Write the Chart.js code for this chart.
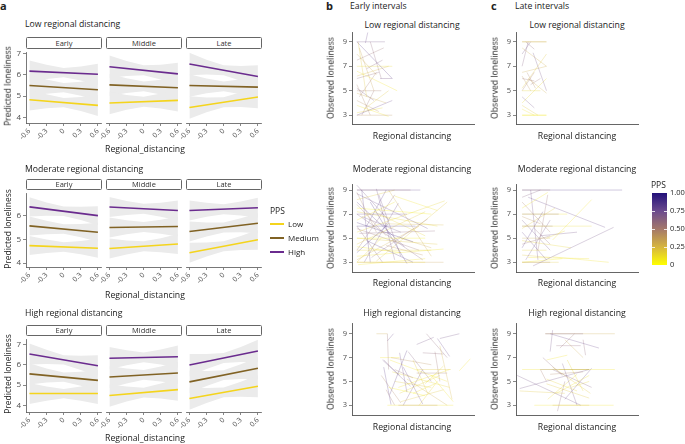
<!DOCTYPE html>
<html>
<head>
<meta charset="utf-8">
<script src="https://cdn.jsdelivr.net/npm/chart.js@4.4.1/dist/chart.umd.min.js"></script>
<style>
  body { margin: 0; background: #fff; }
  #fig { position: relative; width: 685px; height: 444px; overflow: hidden; font-family: "Open Sans", sans-serif; color: #222; }
  #fig canvas { position: absolute; }
  .t { position: absolute; white-space: nowrap; line-height: 1; }
  .strip { position: absolute; box-sizing: border-box; border: 1px solid #666; border-radius: 1.5px; font-size: 7.5px; text-align: center; color: #333; background: #fff; }
</style>
</head>
<body>
<div id="fig"></div>
<script>
// ---- data: panel a (predicted loneliness) ----
const xTicks = [-0.6, -0.3, 0, 0.3, 0.6]
const xTickLabels = ['-0.6', '-0.3', '0', '0.3', '0.6']
const ppsLevels = ['Low', 'Medium', 'High']
const ppsColors = ['#f4d41c', '#806224', '#6a2b8e']
const intervals = ['Early', 'Middle', 'Late']
const distancing = ['Low regional distancing', 'Moderate regional distancing', 'High regional distancing']

// predicted value at x=-0.6 and x=0.6 ; per interval, per PPS (Low, Medium, High)
const predLow = [
  [[4.83, 4.57], [5.50, 5.30], [6.18, 6.03]],
  [[4.63, 4.75], [5.44, 5.31], [6.25, 5.93]],
  [[4.43, 4.90], [5.41, 5.34], [6.37, 5.81]]
]
const predModerate = [
  [[4.74, 4.63], [5.57, 5.30], [6.37, 6.00]],
  [[4.58, 4.76], [5.42, 5.46], [6.24, 6.10]],
  [[4.41, 4.93], [5.26, 5.59], [6.10, 6.21]]
]
const predHigh = [
  [[4.58, 4.58], [5.55, 5.23], [6.53, 5.95]],
  [[4.44, 4.72], [5.31, 5.50], [6.19, 6.26]],
  [[4.30, 4.88], [5.08, 5.72], [5.87, 6.53]]
]
// half width of the confidence ribbon at each x tick
const ciLow = [0.50, 0.33, 0.22, 0.33, 0.50]
const ciModerate = [0.40, 0.28, 0.20, 0.28, 0.40]
const ciHigh = [0.52, 0.35, 0.23, 0.35, 0.52]
const yTicksLow = [4, 5, 6, 7]
const yTicksModerate = [4, 5, 6]
const yTicksHigh = [4, 5, 6, 7]

// ---- data: panels b, c (observed loneliness, one segment per person) ----
// [x1, y1, x2, y2, pps]
const earlyLow = [
  [0.4,9,2.7,9,0.7],[0.4,9,3.3,6,0.8],[2.3,6,3.3,6,0.7],[1.1,8.9,1.3,9.8,0.75],[0.4,7,3.3,7,0.15],
  [0.4,6.6,3.7,5,0.1],[0.4,5,2.4,5,0.5],[0.4,3,3.3,4.2,0.75],[0.4,3,3.3,3,0.4],[0.4,3.8,3,2.9,0.1],
  [0.4,8,2,6.3,0.3],[0.4,6,2.2,6.5,0.6],[0.6,4.5,2,6.5,0.5],[0.4,5.5,1.5,3,0.45],[0.5,9,1.2,4.5,0.2],
  [1,3.5,3,5,0.2],[0.4,7.5,2.6,8.5,0.55],[0.4,4.8,2.8,4,0.3],[1.2,6.8,2.5,7.5,0.65],[0.4,3.2,2.5,3.6,0.15],
  [0.6,8.5,1.8,5,0.35],[0.4,6.2,3,7,0.25],[1.5,9,2.4,6,0.6],[0.4,5.2,1.8,4.2,0.7],[0.8,3,1.8,5,0.55],
  [0.4,4.2,2.2,3.3,0.4]
]
const earlyModerate = [
  [0.4,9,5.6,9,0.8],[0.4,9,4.8,9,0.55],[0.4,3,7.5,3,0.35],[0.4,3,6,3,0.1],[0.4,6,5.2,6,0.85],
  [0.4,7,4.5,7,0.7],[0.4,5,6,5,0.05],[0.4,4,6.5,4,0.15],[0.4,9.4,3,6.5,0.7],[0.4,8.7,6.2,5.8,0.75],
  [0.8,9,1.5,3,0.8],[2,9.1,3.5,3.2,0.7],[0.4,8,4.3,4.3,0.8],[0.4,7,5.8,3.2,0.65],[0.4,6.5,3.5,8,0.1],
  [0.4,5.5,7.6,8.1,0.15],[0.4,4.5,6,7.2,0.2],[0.4,3.2,5.5,6,0.3],[1,3,3.8,7.9,0.75],[0.4,6,2.5,3,0.6],
  [1.5,8,4.5,2.9,0.85],[0.4,5,7,4.5,0.2],[0.4,7.5,6.5,7,0.05],[2.2,8.6,4,3.5,0.7],[0.4,4,3.5,8.6,0.6],
  [3,9,6.5,3.5,0.3],[0.4,5.8,5.5,4,0.55],[0.8,6.8,4,5.5,0.7],[0.4,3.5,7.5,4.1,0.1],[0.4,8.2,3.5,9,0.2],
  [1.2,4.8,5,3,0.8],[0.4,7.8,2.8,5.2,0.45],[2.5,6.2,7.5,6.1,0.25],[0.4,4.3,4,3.8,0.05],[0.6,5.4,6.8,5.6,0.6],
  [1.8,7.2,6,5.2,0.15],[0.4,3,2.4,5,0.15],[3.5,8.5,7,7.3,0.1],[0.4,6.3,5,4.7,0.85],[1.6,3.4,6.2,6.6,0.55],
  [0.4,8.8,2,5.5,0.45],[2.8,4.4,5.8,3.6,0.4],[0.4,3.8,3,6.2,0.9],[4,5,6.5,4.2,0.3],[1.2,6,2.8,9,0.8],
  [0.5,2.8,6,3.3,0.1],[2,3.1,7.8,8,0.2],[0.4,7.2,7,6,0.15]
]
const earlyHigh = [
  [2,9,2.9,9,0.3],[2.9,8.4,3.4,9,0.75],[2.9,9,3,6,0.55],[2.3,7,3.9,7,0.1],[5.3,8.1,6.7,8.7,0.7],
  [7,8.6,8,7.1,0.75],[7.2,8.6,8.8,9,0.7],[6.1,9,7.8,7,0.6],[8.8,5.9,9.7,6.9,0.1],[2.9,3,8.3,3,0.1],
  [3.8,3,7,3,0.45],[5.3,5.7,7.8,5.7,0.55],[5.3,6,8.1,6,0.2],[3.9,7.4,4.5,4.1,0.75],[3.1,3.9,4.5,7.6,0.8],
  [2.6,6.8,3.9,5.5,0.7],[2.6,6.2,3.2,3.05,0.8],[3.1,6.8,7.8,5,0.1],[3.8,4.5,8,6,0.1],[3.9,4,7.2,5.5,0.15],
  [4.6,7.5,6.5,5,0.65],[5,6.8,6.2,4,0.2],[4.2,6.2,5.8,3.1,0.75],[2.5,6.8,4.8,4.6,0.7],[5.5,3,7,5,0.15],
  [3.5,5,6.5,4.5,0.2],[6.5,5.5,8.3,3.3,0.1],[7.2,8,8.2,3.5,0.25],[3,4.5,6,3.8,0.05],[4,3.3,7.5,4.3,0.2],
  [5.8,7.4,7.5,7.3,0.6],[4.2,3,5.8,6,0.7],[3.5,6,5,5.3,0.55],[6,4.8,7.5,6.3,0.15],[2.4,5.5,4,3.2,0.45],
  [3.3,5.8,8,4.5,0.15],[5,4,6.8,4.8,0.1],[6.8,7.5,7.2,5,0.55],[3.2,7,6.5,6.4,0.4],[4.5,5.2,7.8,3,0.3],
  [2.8,4.3,3.5,3,0.5]
]
const lateLow = [
  [0.5,9,2.5,9,0.4],[0.5,9,2.5,9,0.15],[0.5,3,2.5,3,0.1],[0.5,3,2.5,3,0.05],[1.4,8.1,2.5,5,0.7],
  [0.5,8,1.2,9,0.7],[0.5,7,1,9,0.65],[0.8,9,1.5,8.4,0.6],[0.5,6.5,2.5,7,0.3],[0.5,6,1.5,5.8,0.55],
  [0.5,5,2,5,0.15],[0.5,5,1.5,6.5,0.5],[0.9,6.5,1.6,5.2,0.45],[0.5,4.5,1.5,3.6,0.7],[0.5,3.8,1.8,3,0.2],
  [0.5,3.5,1.5,3,0.1],[0.5,5.2,2.5,8,0.2],[0.5,4,2.5,6,0.15],[0.5,8.5,2.5,7,0.3],[1,6,2.5,4.8,0.3],
  [0.5,6.2,1.2,5,0.4],[1.2,5.5,2,6,0.55]
]
const lateModerate = [
  [0.5,9,8.7,9,0.85],[0.5,9,2.8,9,0.5],[1,8.4,7.3,5.9,0.75],[1.4,2.7,8,5.9,0.7],[3,4.85,6.2,8.2,0.1],
  [3,3.45,7.6,3,0.1],[0.5,7,4.2,7,0.1],[0.5,7,3.5,7,0.7],[0.5,6,6.2,6,0.15],[0.5,6,3,6,0.6],
  [0.5,3,3.5,3,0.2],[0.5,3,2.8,3,0.5],[0.5,5,2.8,5,0.3],[0.5,4,2.5,4,0.15],[0.5,4.5,2.8,5.2,0.55],
  [0.5,8.4,2,9,0.65],[0.5,7.5,2.6,8.8,0.1],[0.5,6.5,2.8,4,0.7],[0.5,5.5,2.5,3.2,0.75],[0.8,3.2,2.8,6.5,0.7],
  [0.5,4.2,2.2,7.2,0.8],[1.2,9,1.8,3.2,0.7],[0.5,3.6,2.8,3.4,0.2],[0.5,8,2.8,5.5,0.5],[1.5,5.8,2.8,4.5,0.6],
  [0.5,6.8,2,6.2,0.4],[2,5.2,5,5.5,0.7],[2.5,5,4,5.6,0.15],[0.5,4.8,4.5,4.2,0.15],[1,3.4,6,3.3,0.1],
  [0.5,5.8,3.2,7.5,0.2],[1.8,4,2.6,8.6,0.55],[0.5,3,3.8,3.3,0.05]
]
const lateHigh = [
  [2.4,9,8.1,9,0.3],[2.4,9,5.5,9,0.75],[2.8,9,6.8,7.8,0.75],[3.3,8,5.3,8,0.6],[0.5,6,8.1,6,0.1],
  [2,6,6,6,0.7],[1.5,3,8,3,0.1],[3,3,6,3,0.3],[0.1,5.5,5.3,3,0.7],[0.3,4.4,6,6,0.7],
  [0.3,4.2,4,4,0.2],[3,9.3,2.8,7.5,0.7],[2.5,6.8,4.2,7.2,0.1],[2.2,7,3.8,5.5,0.6],[3.5,6,6,6,0.1],
  [3,6,6.2,4.5,0.65],[4,3.5,6.2,6.1,0.75],[3.4,2.5,4,5,0.6],[2.5,5.2,5,4.2,0.15],[2.5,4.8,6,3.6,0.2],
  [3.3,4,6,5.5,0.1],[3.8,6.5,5,3,0.7],[3.6,7.8,4.8,9,0.55],[4,8.5,5.5,7,0.3],[3,6.2,6.1,4,0.2],
  [2.8,5.6,5.5,5.8,0.45],[4.5,4.5,6,5,0.15],[2.6,3.5,5,5.6,0.15],[4.2,6.8,5.5,4.2,0.15],[2,6,2.5,5,0.5],
  [5.5,8.5,5.7,7.2,0.6]
]
const obsTicks = [3, 5, 7, 9]
const ppsScale = [[0, '#ffff00'], [0.25, '#d6b53e'], [0.5, '#a4786a'], [0.75, '#6b4a8e'], [1, '#22117a']]
const ppsBarLabels = ['0', '0.25', '0.50', '0.75', '1.00']

// ---- layout ----
const family = '"Open Sans", sans-serif'
const fig = document.querySelector('#fig')
const rowsA = [
  { title: 24, strip: 37, top: 49, bottom: 123, yMin: 3.74, yMax: 7.04, xTitle: 149 },
  { title: 169, strip: 179, top: 190, bottom: 267, yMin: 3.84, yMax: 6.92, xTitle: 295 },
  { title: 313, strip: 325, top: 336, bottom: 412, yMin: 3.67, yMax: 7.23, xTitle: 438 }
]
const facetLeft = [26, 106, 186]
const facetW = 76
const rowsB = [
  { title: 25, top: 28, bottom: 127, yMin: 2.24, yMax: 9.76, xTitle: 136 },
  { title: 169, top: 180, bottom: 275, yMin: 2.15, yMax: 9.46, xTitle: 283 },
  { title: 313, top: 319, bottom: 418, yMin: 2.14, yMax: 9.86, xTitle: 427 }
]

function label(s, x, y, size, align, rot, weight) {
  const d = document.createElement('div')
  d.className = 't'
  d.textContent = s
  d.style.fontSize = size + 'px'
  if (weight) d.style.fontWeight = weight
  d.style.left = x + 'px'
  d.style.top = y + 'px'
  const tx = align === 'c' ? '-50%' : (align === 'r' ? '-100%' : '0')
  d.style.transform = `translate(${tx},-50%)` + (rot ? ` rotate(${rot}deg)` : '')
  fig.appendChild(d)
  return d
}

function addCanvas(left, top, w, h) {
  const c = document.createElement('canvas')
  c.width = w
  c.height = h
  c.style.left = left + 'px'
  c.style.top = top + 'px'
  c.style.width = w + 'px'
  c.style.height = h + 'px'
  fig.appendChild(c)
  return c
}

function hexRgb(h) {
  return [1, 3, 5].map(i => parseInt(h.substr(i, 2), 16))
}
function ppsColor(p, a) {
  let i = 0
  while (i < ppsScale.length - 2 && p > ppsScale[i + 1][0]) i++
  const [p0, c0] = ppsScale[i]
  const [p1, c1] = ppsScale[i + 1]
  const t = (p - p0) / (p1 - p0)
  const a0 = hexRgb(c0), a1 = hexRgb(c1)
  const c = a0.map((v, k) => Math.round(v + (a1[k] - v) * t))
  return `rgba(${c[0]},${c[1]},${c[2]},${a})`
}

const axisCol = '#555'
const tickCol = '#4d4d4d'

// one facet of panel a
function facetChart(row, fi, preds, hw, yTicks) {
  const r = rowsA[row]
  const showY = fi === 0
  const padL = showY ? 0 : 10
  const axisW = showY ? 26 : 0
  const cv = addCanvas(facetLeft[fi] - axisW - padL, r.top - 3, padL + axisW + facetW + 3, (r.bottom - r.top) + 3 + 24)

  const datasets = []
  preds[fi].forEach(p => {
    const at = x => p[0] + (p[1] - p[0]) * (x + 0.6) / 1.2
    datasets.push({ data: xTicks.map((x, i) => ({ x, y: at(x) + hw[i] })), fill: '+1', backgroundColor: '#ebebeb', borderWidth: 0, pointRadius: 0, order: 2 })
    datasets.push({ data: xTicks.map((x, i) => ({ x, y: at(x) - hw[i] })), fill: false, borderWidth: 0, pointRadius: 0, order: 2 })
  })
  preds[fi].forEach((p, g) => {
    datasets.push({ label: ppsLevels[g], data: [{ x: -0.6, y: p[0] }, { x: 0.6, y: p[1] }], borderColor: ppsColors[g], borderWidth: 1.6, pointRadius: 0, fill: false, order: 1 })
  })

  new Chart(cv, {
    type: 'line',
    data: { datasets },
    options: {
      responsive: false, animation: false, events: [],
      layout: { autoPadding: false, padding: { left: padL, top: 3, right: 3, bottom: 2 } },
      plugins: { legend: { display: false }, tooltip: { enabled: false } },
      scales: {
        x: {
          type: 'linear', min: -0.66, max: 0.66,
          afterBuildTicks: s => { s.ticks = xTicks.map(v => ({ value: v })) },
          afterFit: s => { s.height = 22 },
          ticks: { autoSkip: false, minRotation: 45, maxRotation: 45, padding: 1, font: { size: 7, family }, color: tickCol,
            callback: v => xTickLabels[xTicks.indexOf(v)] },
          grid: { drawOnChartArea: false, tickLength: 3, color: axisCol, lineWidth: 0.7 },
          border: { display: true, color: axisCol, width: 0.8 }
        },
        y: {
          display: showY, min: r.yMin, max: r.yMax,
          afterBuildTicks: s => { s.ticks = yTicks.map(v => ({ value: v })) },
          afterFit: s => { s.width = axisW },
          ticks: { font: { size: 8, family }, color: tickCol, padding: 2 },
          grid: { drawOnChartArea: false, tickLength: 3, color: axisCol, lineWidth: 0.7 },
          border: { display: true, color: axisCol, width: 0.8 }
        }
      }
    }
  })
}

// one panel of b / c
function spaghettiChart(segs, plotLeft, r) {
  const axisW = 16
  const cv = addCanvas(plotLeft - axisW, r.top - 2, axisW + 122 + 3, (r.bottom - r.top) + 6)
  const datasets = segs.map(s => ({
    data: [{ x: s[0], y: s[1] }, { x: s[2], y: s[3] }],
    borderColor: ppsColor(s[4], 0.45), borderWidth: 0.6, pointRadius: 0, fill: false
  }))
  new Chart(cv, {
    type: 'line',
    data: { datasets },
    options: {
      responsive: false, animation: false, events: [],
      layout: { autoPadding: false, padding: { left: 0, top: 2, right: 3, bottom: 3 } },
      plugins: { legend: { display: false }, tooltip: { enabled: false } },
      scales: {
        x: {
          type: 'linear', min: 0, max: 10,
          afterFit: s => { s.height = 1 },
          ticks: { display: false }, grid: { display: false },
          border: { display: true, color: axisCol, width: 0.9 }
        },
        y: {
          min: r.yMin, max: r.yMax,
          afterBuildTicks: s => { s.ticks = obsTicks.map(v => ({ value: v })) },
          afterFit: s => { s.width = axisW },
          ticks: { font: { size: 7.5, family }, color: tickCol, padding: 2 },
          grid: { drawOnChartArea: false, tickLength: 3, color: axisCol, lineWidth: 0.7 },
          border: { display: true, color: axisCol, width: 0.9 }
        }
      }
    }
  })
}

// ---- panel a ----
label('a', 0, 5, 11, 'l', 0, 'bold')
const preds = [predLow, predModerate, predHigh]
const cis = [ciLow, ciModerate, ciHigh]
const yTicksA = [yTicksLow, yTicksModerate, yTicksHigh]
rowsA.forEach((r, row) => {
  label(distancing[row], 25, r.title, 8.7, 'l')
  intervals.forEach((name, fi) => {
    const s = document.createElement('div')
    s.className = 'strip'
    s.textContent = name
    s.style.left = facetLeft[fi] + 'px'
    s.style.top = r.strip + 'px'
    s.style.width = facetW + 'px'
    s.style.height = (r.top - r.strip) + 'px'
    s.style.lineHeight = (r.top - r.strip - 2) + 'px'
    fig.appendChild(s)
    facetChart(row, fi, preds[row], cis[row], yTicksA[row])
  })
  label('Predicted loneliness', 8, (r.top + r.bottom) / 2, 8.5, 'c', -90)
  label('Regional_distancing', 145, r.xTitle, 8.7, 'c')
})

// legend
label('PPS', 270, 211, 8.5, 'l')
ppsLevels.forEach((name, g) => {
  const y = 224 + g * 14
  const ln = document.createElement('div')
  ln.style.cssText = `position:absolute;left:270px;top:${y - 0.8}px;width:14px;height:1.6px;background:${ppsColors[g]}`
  fig.appendChild(ln)
  label(name, 288, y, 8, 'l')
})

// ---- panels b and c ----
label('b', 326, 5, 11, 'l', 0, 'bold')
label('Early intervals', 350, 6, 8.7, 'l')
label('c', 491, 5, 11, 'l', 0, 'bold')
label('Late intervals', 515, 6, 8.7, 'l')

const earlySegs = [earlyLow, earlyModerate, earlyHigh]
const lateSegs = [lateLow, lateModerate, lateHigh]
rowsB.forEach((r, row) => {
  ;[[352, earlySegs, 412, 331], [516, lateSegs, 577, 495]].forEach(([plotLeft, segs, cx, yl]) => {
    label(distancing[row], cx, r.title, 8.7, 'c')
    spaghettiChart(segs[row], plotLeft, r)
    label('Observed loneliness', yl, (r.top + r.bottom) / 2, 8.7, 'c', -90)
    label('Regional distancing', cx, r.xTitle, 8.7, 'c')
  })
})

// colour bar
label('PPS', 651, 185, 8.5, 'l')
const bar = document.createElement('div')
bar.style.cssText = 'position:absolute;left:652px;top:193px;width:15px;height:72px;background:linear-gradient(to top,' +
  ppsScale.map(s => `${s[1]} ${s[0] * 100}%`).join(',') + ')'
fig.appendChild(bar)
ppsBarLabels.forEach((t, i) => {
  const y = 265 - i * 18
  label(t, 670, y, 7.5, 'l')
  if (i > 0 && i < 4) {
    const m1 = document.createElement('div')
    m1.style.cssText = `position:absolute;left:652px;top:${y}px;width:3px;height:1px;background:rgba(255,255,255,0.8)`
    const m2 = document.createElement('div')
    m2.style.cssText = `position:absolute;left:664px;top:${y}px;width:3px;height:1px;background:rgba(255,255,255,0.8)`
    fig.appendChild(m1)
    fig.appendChild(m2)
  }
})
</script>
</body>
</html>
